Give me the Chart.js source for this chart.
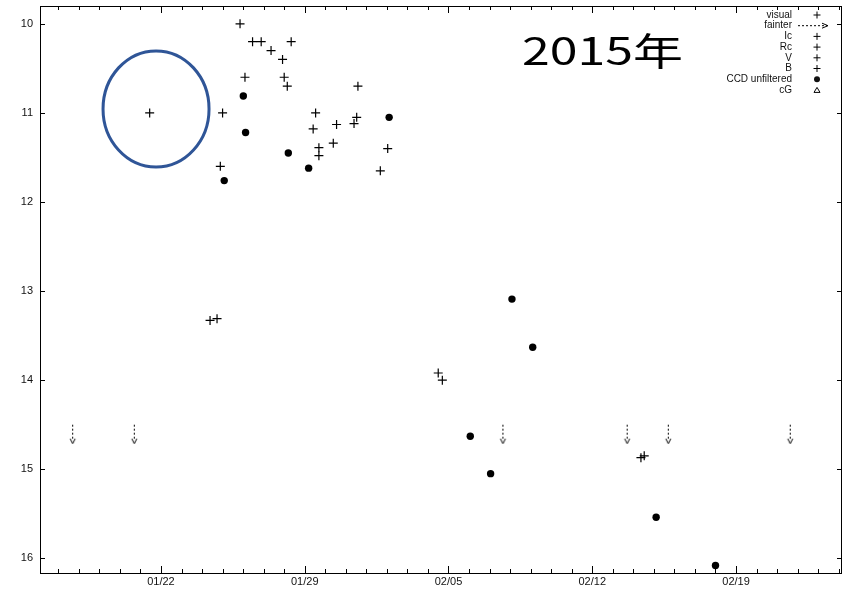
<!DOCTYPE html>
<html>
<head>
<meta charset="utf-8">
<script src="https://cdn.jsdelivr.net/npm/chart.js@4/dist/chart.umd.min.js"></script>
<style>
  html, body { margin: 0; padding: 0; background: #fff; }
  #wrap { width: 850px; height: 590px; }
</style>
</head>
<body>
<div id="wrap"><canvas id="canvas" width="850" height="590"></canvas></div>
<script>
// light curve, days counted from Jan 0 (Feb 5 = 36)
const visualDay = [21.45, 25.85, 26.46, 26.88, 27.36, 27.92, 28.34, 26.09, 28.00, 28.15, 25.00, 24.89,
  31.59, 29.53, 29.41, 30.55, 31.53, 31.40, 29.69, 29.69, 30.39, 33.04, 32.68,
  24.39, 24.73, 35.50, 35.70, 45.37, 45.53];
const visualMag = [11.0, 10.0, 10.2, 10.2, 10.3, 10.4, 10.2, 10.6, 10.6, 10.7, 11.0, 11.6,
  10.7, 11.0, 11.18, 11.13, 11.05, 11.12, 11.39, 11.48, 11.34, 11.4, 11.65,
  13.33, 13.31, 13.92, 14.0, 14.87, 14.85];

const ccdDay = [26.01, 26.12, 25.08, 28.20, 29.19, 33.11, 39.09, 40.10, 37.06, 38.05, 46.11, 49.0];
const ccdMag = [10.81, 11.22, 11.76, 11.45, 11.62, 11.05, 13.09, 13.63, 14.63, 15.05, 15.54, 16.08];

const fainterDay = [17.70, 20.70, 38.65, 44.70, 46.70, 52.64];
const fainterMag = [14.5, 14.5, 14.5, 14.5, 14.5, 14.5];

const xLabelDays = [22, 29, 36, 43, 50];
const xLabels = ["01/22", "01/29", "02/05", "02/12", "02/19"];
const xTickDays = [];
for (let d = 17; d <= 55; d++) xTickDays.push(d);
const yTicks = [10, 11, 12, 13, 14, 15, 16];

const seriesNames = ["visual", "fainter", "Ic", "Rc", "V", "B", "CCD unfiltered", "cG"];

const toPoints = (xs, ys) => xs.map((x, i) => ({ x: x, y: ys[i] }));

// dashed arrow pointing down, tail at the centre of the image
function makeArrow() {
  const c = document.createElement("canvas");
  c.width = 9; c.height = 40;
  const g = c.getContext("2d");
  g.strokeStyle = "#000";
  g.lineWidth = 1;
  g.setLineDash([2, 2]);
  g.beginPath(); g.moveTo(4.5, 20); g.lineTo(4.5, 36); g.stroke();
  g.setLineDash([]);
  g.beginPath(); g.moveTo(2, 34); g.lineTo(4.5, 39); g.lineTo(7, 34); g.stroke();
  return c;
}
const arrowImg = makeArrow();

// inward ticks + frame, gnuplot style
const framePlugin = {
  id: "frame",
  afterDraw(chart) {
    const { ctx, chartArea: a, scales } = chart;
    ctx.save();
    ctx.strokeStyle = "#000";
    ctx.lineWidth = 1;
    ctx.strokeRect(a.left + 0.5, a.top + 0.5, a.right - a.left - 1, a.bottom - a.top);
    ctx.beginPath();
    scales.x.ticks.forEach(t => {
      const px = Math.round(scales.x.getPixelForValue(t.value)) + 0.5;
      const len = xLabelDays.includes(t.value) ? 7 : 4;
      ctx.moveTo(px, a.bottom); ctx.lineTo(px, a.bottom - len);
      ctx.moveTo(px, a.top); ctx.lineTo(px, a.top + len);
    });
    scales.y.ticks.forEach(t => {
      const py = Math.round(scales.y.getPixelForValue(t.value)) + 0.5;
      ctx.moveTo(a.left, py); ctx.lineTo(a.left + 5, py);
      ctx.moveTo(a.right, py); ctx.lineTo(a.right - 5, py);
    });
    ctx.stroke();
    ctx.restore();
  }
};

// key in the top right corner: text right aligned, sample on its right
const keyPlugin = {
  id: "key",
  afterDraw(chart) {
    const { ctx, chartArea: a } = chart;
    ctx.save();
    ctx.font = '10px "Liberation Sans", Arial, sans-serif';
    ctx.fillStyle = "#111";
    ctx.strokeStyle = "#000";
    ctx.lineWidth = 1;
    ctx.textAlign = "right";
    ctx.textBaseline = "middle";
    const textX = a.right - 50;
    const sx = a.right - 25;
    chart.data.datasets.forEach((ds, i) => {
      const y = a.top + 9 + i * 10.7;
      ctx.fillText(ds.label, textX, y);
      const st = ds.pointStyle;
      ctx.beginPath();
      if (st === "cross") {
        ctx.moveTo(sx - 3.5, y); ctx.lineTo(sx + 3.5, y);
        ctx.moveTo(sx, y - 3.5); ctx.lineTo(sx, y + 3.5);
        ctx.stroke();
      } else if (st === "circle") {
        ctx.arc(sx, y, 3, 0, Math.PI * 2);
        ctx.fill();
      } else if (st === "triangle") {
        ctx.moveTo(sx - 3, y + 2.5); ctx.lineTo(sx, y - 2.5); ctx.lineTo(sx + 3, y + 2.5);
        ctx.closePath();
        ctx.stroke();
      } else {
        ctx.setLineDash([2, 2]);
        ctx.moveTo(sx - 19, y); ctx.lineTo(sx + 10, y);
        ctx.stroke();
        ctx.setLineDash([]);
        ctx.beginPath();
        ctx.moveTo(sx + 5, y - 2.5); ctx.lineTo(sx + 11, y); ctx.lineTo(sx + 5, y + 2.5);
        ctx.stroke();
      }
    });
    ctx.restore();
  }
};

// year caption and blue circle round the early point
const notePlugin = {
  id: "note",
  afterDraw(chart) {
    const { ctx, chartArea: a, scales } = chart;
    ctx.save();
    ctx.strokeStyle = "#2f5597";
    ctx.lineWidth = 3;
    ctx.beginPath();
    ctx.ellipse(scales.x.getPixelForValue(21.76), scales.y.getPixelForValue(10.955), 53, 58, 0, 0, Math.PI * 2);
    ctx.stroke();
    ctx.fillStyle = "#000";
    ctx.font = '38px "Noto Sans CJK JP", "Noto Sans", sans-serif';
    ctx.textAlign = "left";
    ctx.textBaseline = "alphabetic";
    const txt = "2015年";
    const w = ctx.measureText(txt).width;
    ctx.translate(a.left + 482, a.top + 59);
    ctx.scale(161 / w, 1);
    ctx.fillText(txt, 0, 0);
    ctx.restore();
  }
};

const ctx1 = document.getElementById("canvas").getContext("2d");

new Chart(ctx1, {
  type: "scatter",
  data: {
    datasets: [
      { label: seriesNames[0], data: toPoints(visualDay, visualMag), pointStyle: "cross",
        pointRadius: 4.5, borderColor: "#000", borderWidth: 1.2 },
      { label: seriesNames[1], data: toPoints(fainterDay, fainterMag), pointStyle: arrowImg,
        pointRadius: 5 },
      { label: seriesNames[2], data: [], pointStyle: "cross" },
      { label: seriesNames[3], data: [], pointStyle: "cross" },
      { label: seriesNames[4], data: [], pointStyle: "cross" },
      { label: seriesNames[5], data: [], pointStyle: "cross" },
      { label: seriesNames[6], data: toPoints(ccdDay, ccdMag), pointStyle: "circle",
        pointRadius: 3.7, backgroundColor: "#000", borderColor: "#000", borderWidth: 0 },
      { label: seriesNames[7], data: [], pointStyle: "triangle" }
    ]
  },
  options: {
    responsive: false,
    animation: false,
    devicePixelRatio: 1,
    layout: { padding: { top: 3, right: 8, left: 0, bottom: 0 } },
    plugins: { legend: { display: false }, tooltip: { enabled: false } },
    scales: {
      x: {
        type: "linear",
        min: 16.11,
        max: 55.16,
        grid: { display: false, drawTicks: false },
        border: { display: false },
        afterBuildTicks: axis => { axis.ticks = xTickDays.map(v => ({ value: v })); },
        afterFit: axis => { axis.height = 17; axis.paddingLeft = 0; axis.paddingRight = 0; },
        ticks: {
          autoSkip: false,
          maxRotation: 0,
          padding: 2,
          color: "#111",
          font: { family: '"Liberation Sans", Arial, sans-serif', size: 11 },
          callback: v => {
            const i = xLabelDays.indexOf(v);
            return i >= 0 ? xLabels[i] : "";
          }
        }
      },
      y: {
        type: "linear",
        reverse: true,
        min: 9.80,
        max: 16.165,
        grid: { display: false, drawTicks: false },
        border: { display: false },
        afterBuildTicks: axis => { axis.ticks = yTicks.map(v => ({ value: v })); },
        afterFit: axis => { axis.width = 40; axis.paddingTop = 0; axis.paddingBottom = 0; },
        ticks: {
          padding: 7,
          color: "#111",
          font: { family: '"Liberation Sans", Arial, sans-serif', size: 11 }
        }
      }
    }
  },
  plugins: [framePlugin, keyPlugin, notePlugin]
});
</script>
</body>
</html>
